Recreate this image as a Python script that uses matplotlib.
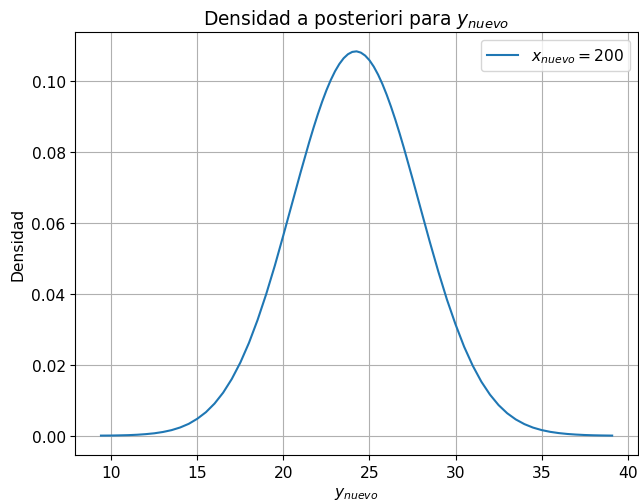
import matplotlib
matplotlib.use("Agg")
import matplotlib.pyplot as plt

# densidad (y_nuevo, densidad)
y_nuevo = [9.4, 10.0, 10.5, 11.0, 11.5, 12.0, 12.5, 13.0, 13.5, 14.0, 14.5,
           15.0, 15.5, 16.0, 16.5, 17.0, 17.5, 18.0, 18.5, 19.0, 19.5,
           20.0, 20.5, 21.0, 21.5, 21.75, 22.0, 22.25, 22.5, 22.75, 23.0,
           23.25, 23.5, 23.75, 24.0, 24.25, 24.5, 24.75, 25.0, 25.25, 25.5,
           25.75, 26.0, 26.25, 26.5, 26.75, 27.0, 27.5, 28.0, 28.5, 29.0, 29.5,
           30.0, 30.5, 31.0, 31.5, 32.0, 32.5, 33.0, 33.5, 34.0, 34.5,
           35.0, 35.5, 36.0, 36.5, 37.0, 37.5, 38.0, 38.5, 39.1]
densidad = [0.00004, 0.00006, 0.00011, 0.00017, 0.00028, 0.00045, 0.00069,
            0.00106, 0.00158, 0.00233, 0.00336, 0.00480, 0.00665, 0.00908,
            0.01216, 0.01600, 0.02066, 0.02621, 0.03266, 0.03994, 0.04795,
            0.05660, 0.06545, 0.07430, 0.08282, 0.08685, 0.09066, 0.09420,
            0.09743, 0.10030, 0.10279, 0.10484, 0.10646, 0.10759, 0.10824,
            0.10840, 0.10804, 0.10720, 0.10588, 0.10408, 0.10184, 0.09920,
            0.09617, 0.09281, 0.08917, 0.08527, 0.08116, 0.07251, 0.06360,
            0.05476, 0.04630, 0.03842, 0.03140, 0.02510, 0.01975, 0.01525,
            0.01160, 0.00865, 0.00635, 0.00460, 0.00328, 0.00230, 0.00160,
            0.00110, 0.00075, 0.00050, 0.00033, 0.00021, 0.00013, 0.00008,
            0.00004]

plt.rcParams["font.size"] = 11.2

fig = plt.figure(figsize=(6.39, 5.02), dpi=100)
ax = fig.add_axes([0.118, 0.092, 0.880, 0.842])

ax.plot(y_nuevo, densidad, label=r"$x_{nuevo} = 200$")
ax.set_title(r"Densidad a posteriori para $y_{nuevo}$")
ax.set_xlabel(r"$y_{nuevo}$")
ax.set_ylabel("Densidad")
ax.grid(True)
ax.legend(loc="upper right")

fig.savefig("out.png", dpi=100)
